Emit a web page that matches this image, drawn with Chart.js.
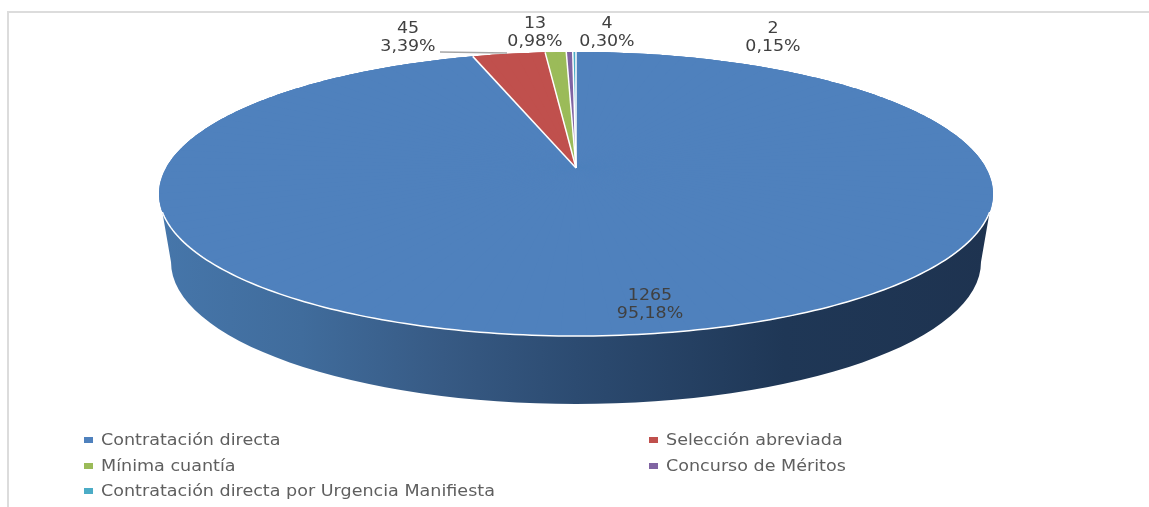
<!DOCTYPE html>
<html>
<head>
<meta charset="utf-8">
<title>Contratación</title>
<script src="https://cdn.jsdelivr.net/npm/chart.js@4/dist/chart.umd.min.js"></script>
<style>
  html, body { margin: 0; padding: 0; background: #fff; overflow: hidden; }
  #wrap { position: relative; width: 1149px; height: 507px; overflow: hidden; filter: blur(0.45px); }
  #frame { position: absolute; left: 7px; top: 11px; right: -4px; bottom: -4px; border: 2px solid #dcdcdc; }
  #pie { position: absolute; left: 0; top: 0; }
  #legend {
    position: absolute; left: 84px; top: 427.5px;
    display: grid; grid-template-columns: 564.5px 400px; grid-auto-rows: 25.5px;
    font: 15px "DejaVu Sans", sans-serif; color: #5f5f5f;
  }
  #legend div { display: flex; align-items: center; white-space: nowrap; }
  #legend i { display: block; width: 9px; height: 6px; margin-right: 8px; }
  #legend span { display: block; transform: scaleX(1.17); transform-origin: left center; }
</style>
</head>
<body>
<div id="wrap">
  <div id="frame"></div>
  <canvas id="pie" width="1149" height="507"></canvas>
  <div id="legend"></div>
</div>
<script>
const categories = [
  "Contratación directa",
  "Selección abreviada",
  "Mínima cuantía",
  "Concurso de Méritos",
  "Contratación directa por Urgencia Manifiesta",
];
const counts = [1265, 45, 13, 4, 2];
const colors = ["#4f81bd", "#c0504d", "#9bbb59", "#8064a2", "#4bacc6"];

const total = counts.reduce((a, b) => a + b, 0);

// where each count/percent label sits, same order as counts
const labelSpots = [[650, 296], [408, 29], [535, 24], [607, 24], [773, 29]];
const labelGap = 18;

// tilted disc: a circle seen in perspective, so the wedge tip is above the middle of the ellipse
const tilt = { x: 576, y: 167, b: 409.4, a: 136.9, p: -0.19 };

function project(angle) {
  let u = Math.cos(angle);
  let v = Math.sin(angle);
  let d = 1 + tilt.p * v;
  return { x: tilt.x + (tilt.b * u) / d, y: tilt.y + (tilt.a * v) / d };
}

// affine transform that puts one thin wedge of the round arc onto the tilted disc
function wedgeTransform(ctx, arc, start, end) {
  let r = arc.outerRadius;
  let ax = r * Math.cos(start);
  let ay = r * Math.sin(start);
  let bx = r * Math.cos(end);
  let by = r * Math.sin(end);
  let pa = project(start);
  let pb = project(end);
  let det = ax * by - ay * bx;
  // 1.02: run a bit past the rim, the disc clip gives the clean outer edge
  let grow = 1.02;
  let m11 = (grow * ((pa.x - tilt.x) * by - (pb.x - tilt.x) * ay)) / det;
  let m12 = (grow * ((pb.x - tilt.x) * ax - (pa.x - tilt.x) * bx)) / det;
  let m21 = (grow * ((pa.y - tilt.y) * by - (pb.y - tilt.y) * ay)) / det;
  let m22 = (grow * ((pb.y - tilt.y) * ax - (pa.y - tilt.y) * bx)) / det;
  ctx.transform(m11, m21, m12, m22,
    tilt.x - m11 * arc.x - m12 * arc.y,
    tilt.y - m21 * arc.x - m22 * arc.y);
}

function drawTiltedArc(ctx, arc) {
  let start = arc.startAngle;
  let end = arc.endAngle;
  let step = Math.PI / 60;
  let pieces = Math.max(1, Math.ceil((end - start) / step));
  let size = (end - start) / pieces;
  let circumference = arc.circumference;

  // whole arc first, plain scale around the tip: same wedge edges, covers the area near the tip
  ctx.save();
  ctx.translate(tilt.x, tilt.y);
  ctx.scale(tilt.b / arc.outerRadius, tilt.a / arc.outerRadius);
  ctx.translate(-arc.x, -arc.y);
  arc.draw(ctx);
  ctx.restore();

  for (let i = 0; i < pieces; i++) {
    let s = start + i * size;
    let e = Math.min(s + 2 * size, end);
    arc.startAngle = s;
    arc.endAngle = e;
    arc.circumference = e - s;
    ctx.save();
    wedgeTransform(ctx, arc, s, e);
    arc.draw(ctx);
    ctx.restore();
  }
  arc.startAngle = start;
  arc.endAngle = end;
  arc.circumference = circumference;
}

function tracePath(ctx, fromDeg, toDeg) {
  for (let deg = fromDeg; deg <= toDeg; deg += 1) {
    let p = project((deg * Math.PI) / 180);
    ctx.lineTo(p.x, p.y);
  }
}

function drawWall(ctx) {
  let grad = ctx.createLinearGradient(160, 0, 992, 0);
  grad.addColorStop(0, "#4676aa");
  grad.addColorStop(0.17, "#406c9c");
  grad.addColorStop(0.34, "#375a84");
  grad.addColorStop(0.5, "#2c4b71");
  grad.addColorStop(0.75, "#1f3756");
  grad.addColorStop(1, "#1e3350");
  ctx.beginPath();
  tracePath(ctx, 18, 162);
  ctx.ellipse(576, 262, 405, 142, 0, Math.PI, 0, true);
  ctx.closePath();
  ctx.fillStyle = grad;
  ctx.fill();
}

function drawRimAndSeams(ctx, arcs) {
  ctx.strokeStyle = "#ffffff";
  ctx.lineWidth = 1.5;
  ctx.beginPath();
  tracePath(ctx, 18, 162);
  ctx.stroke();
  arcs.forEach(function (arc) {
    let p = project(arc.startAngle);
    ctx.beginPath();
    ctx.moveTo(tilt.x, tilt.y + 1);
    ctx.lineTo(p.x, p.y);
    ctx.stroke();
  });
}

function drawStretchedText(ctx, text, x, y) {
  ctx.save();
  ctx.translate(x, y);
  ctx.scale(1.16, 1);
  ctx.fillText(text, 0, 0);
  ctx.restore();
}

function drawLabels(ctx) {
  ctx.strokeStyle = "#a6a6a6";
  ctx.lineWidth = 1.5;
  ctx.beginPath();
  ctx.moveTo(440, 52);
  ctx.lineTo(507, 53);
  ctx.stroke();

  ctx.fillStyle = "#404040";
  ctx.font = '15px "DejaVu Sans", sans-serif';
  ctx.textAlign = "center";
  ctx.textBaseline = "middle";
  counts.forEach(function (count, i) {
    let pct = ((count / total) * 100).toFixed(2).replace(".", ",") + "%";
    drawStretchedText(ctx, String(count), labelSpots[i][0], labelSpots[i][1]);
    drawStretchedText(ctx, pct, labelSpots[i][0], labelSpots[i][1] + labelGap);
  });
}

const tiltedPie = {
  id: "tiltedPie",
  beforeDatasetDraw(chart, args) {
    let ctx = chart.ctx;
    drawWall(ctx);
    ctx.save();
    ctx.beginPath();
    tracePath(ctx, 0, 360);
    ctx.closePath();
    ctx.clip();
    args.meta.data.forEach(function (arc) {
      drawTiltedArc(ctx, arc);
    });
    ctx.restore();
    return false;
  },
  afterDatasetsDraw(chart) {
    drawRimAndSeams(chart.ctx, chart.getDatasetMeta(0).data);
    drawLabels(chart.ctx);
  },
};

new Chart(document.getElementById("pie").getContext("2d"), {
  type: "pie",
  data: {
    labels: categories,
    datasets: [
      {
        data: counts,
        backgroundColor: colors,
        borderWidth: 0,
      },
    ],
  },
  options: {
    responsive: false,
    animation: false,
    plugins: {
      legend: { display: false },
      tooltip: { enabled: false },
    },
  },
  plugins: [tiltedPie],
});

let legendBox = document.getElementById("legend");
categories.forEach(function (name, i) {
  let row = document.createElement("div");
  let swatch = document.createElement("i");
  let label = document.createElement("span");
  swatch.style.background = colors[i];
  label.textContent = name;
  row.appendChild(swatch);
  row.appendChild(label);
  legendBox.appendChild(row);
});
</script>
</body>
</html>
